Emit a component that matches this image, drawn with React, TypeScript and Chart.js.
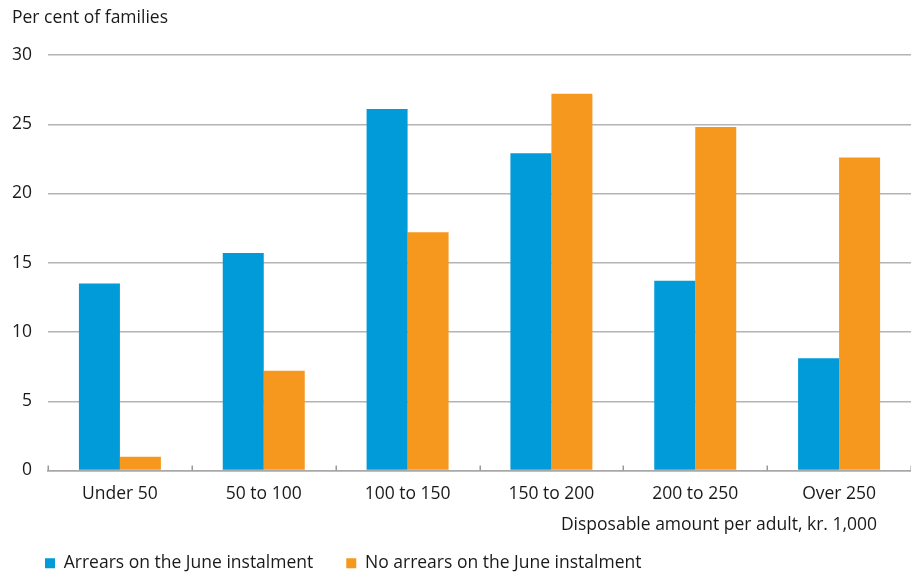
import { useEffect, useRef } from "react";
import { Chart, registerables } from "chart.js";

Chart.register(...registerables);

const categories = ["Under 50", "50 to 100", "100 to 150", "150 to 200", "200 to 250", "Over 250"];
const arrearsValues = [13.5, 15.7, 26.1, 22.9, 13.7, 8.1];
const noArrearsValues = [1.0, 7.2, 17.2, 27.2, 24.8, 22.6];
const seriesLabels = ["Arrears on the June instalment", "No arrears on the June instalment"];
const yAxisTitle = "Per cent of families";
const xAxisTitle = "Disposable amount per adult, kr. 1,000";
const yMin = 0;
const yMax = 30;
const yStep = 5;

const FONT = "'Open Sans', 'Noto Sans', sans-serif";
const FONT_SIZE = 17.5;
const TEXT = "#1a1a1a";
const BLUE = "#009bd8";
const ORANGE = "#f7981e";
const AXIS = "#a8a8a8";
const GRID = "#b4b4b4";

// Axis title under the category labels, right-aligned near the end of the axis
const xTitlePlugin = {
  id: "xTitle",
  afterDraw(chart: any) {
    const { ctx, chartArea } = chart;
    ctx.save();
    ctx.font = `${FONT_SIZE}px ${FONT}`;
    ctx.fillStyle = TEXT;
    ctx.textAlign = "right";
    ctx.textBaseline = "middle";
    ctx.fillText(xAxisTitle, chartArea.right - 34, chartArea.bottom + 55);
    ctx.restore();
  },
};

// Short category separators rising from the baseline into the plot
const innerTicksPlugin = {
  id: "innerTicks",
  afterDatasetsDraw(chart: any) {
    const { ctx, chartArea } = chart;
    const xs = chart.scales.x;
    const n = xs.ticks.length;
    const half = n > 1 ? (xs.getPixelForTick(1) - xs.getPixelForTick(0)) / 2 : xs.width / 2;
    ctx.save();
    ctx.strokeStyle = "#9a9a9a";
    ctx.lineWidth = 1.5;
    for (let i = 0; i <= n; i++) {
      const x = i < n ? xs.getPixelForTick(i) - half : xs.getPixelForTick(n - 1) + half;
      const px = Math.round(x) + 0.25;
      ctx.beginPath();
      ctx.moveTo(px, chartArea.bottom - 5);
      ctx.lineTo(px, chartArea.bottom);
      ctx.stroke();
    }
    ctx.restore();
  },
};

export default function App() {
  const ref = useRef<HTMLCanvasElement>(null);

  useEffect(() => {
    document.body.style.margin = "0";
    const chart = new Chart(ref.current!, {
      type: "bar",
      data: {
        labels: categories,
        datasets: [
          { label: seriesLabels[0], data: arrearsValues, backgroundColor: BLUE },
          { label: seriesLabels[1], data: noArrearsValues, backgroundColor: ORANGE },
        ],
      },
      plugins: [xTitlePlugin, innerTicksPlugin],
      options: {
        animation: false,
        responsive: false,
        devicePixelRatio: 1,
        layout: { padding: { left: 12, right: 0, top: 0, bottom: -7 } },
        datasets: {
          bar: { barPercentage: 1, categoryPercentage: 0.57 },
        },
        plugins: {
          title: {
            display: true,
            text: yAxisTitle,
            align: "start",
            color: TEXT,
            font: { family: FONT, size: FONT_SIZE, weight: "normal" },
            padding: { top: 8, bottom: 26 },
          },
          legend: {
            display: true,
            position: "bottom",
            align: "start",
            labels: {
              color: TEXT,
              font: { family: FONT, size: FONT_SIZE },
              boxWidth: 10,
              boxHeight: 10,
              padding: 33,
            },
          },
          tooltip: { enabled: false },
        },
        scales: {
          x: {
            grid: {
              display: false,
            },
            border: { display: true, color: AXIS, width: 1.8 },
            ticks: {
              color: TEXT,
              font: { family: FONT, size: FONT_SIZE },
              padding: 5,
            },
            afterFit(scale: any) {
              scale.height = 51;
            },
          },
          y: {
            min: yMin,
            max: yMax,
            grid: {
              color: (c: any) => (c.tick && c.tick.value === 0 ? "rgba(0,0,0,0)" : GRID),
              drawTicks: false,
              lineWidth: 1.4,
            },
            border: { display: false },
            ticks: {
              stepSize: yStep,
              color: TEXT,
              font: { family: FONT, size: FONT_SIZE },
              padding: 16,
            },
            afterFit(scale: any) {
              scale.width = 36;
            },
          },
        },
      },
    });
    return () => chart.destroy();
  }, []);

  return <canvas ref={ref} width={911} height={575} style={{ display: "block" }} />;
}
